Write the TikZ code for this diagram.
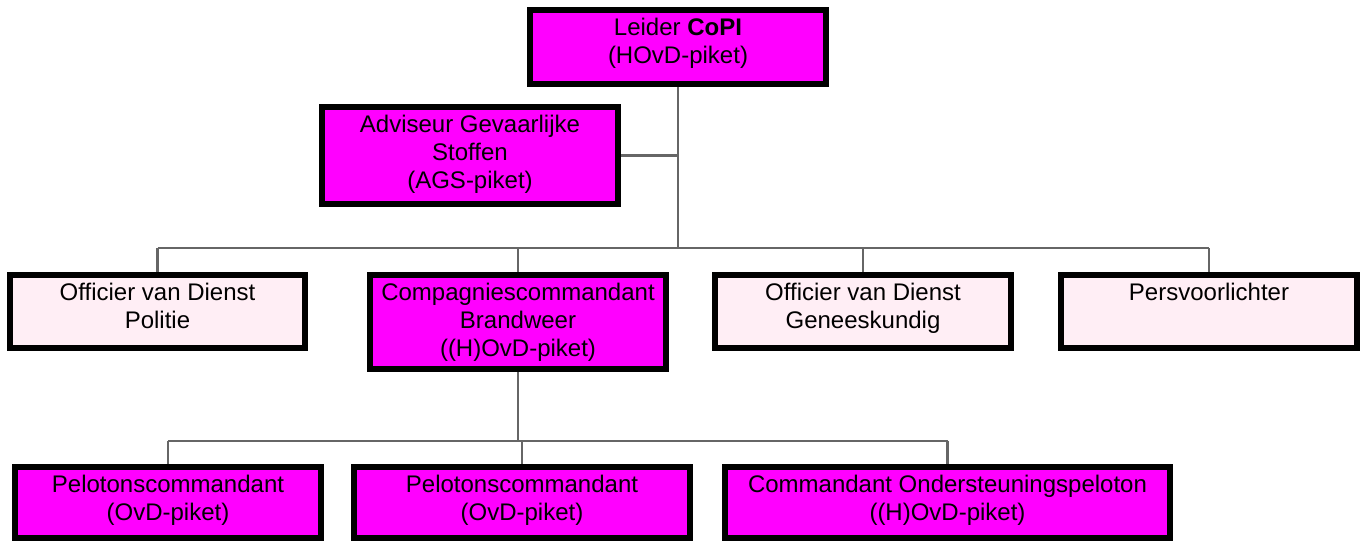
\documentclass[tikz,border=0pt]{standalone}
\usepackage{fontspec}
\setmainfont{Liberation Sans}
\usetikzlibrary{backgrounds}
\definecolor{roleMagenta}{HTML}{FF00FF}
\definecolor{rolePink}{HTML}{FFEEF5}
\definecolor{linkGray}{HTML}{666666}
% box content: width, height, text (top aligned, centred lines)
\newcommand\orgtext[3]{\parbox[c][#2][t]{#1}{\centering\vspace*{8.5pt}#3\par}}
\begin{document}
\begin{tikzpicture}[x=1pt,y=-1pt,
  font=\fontsize{24}{28}\selectfont,
  orgbox/.style={draw=black,line width=6pt,inner sep=0pt,rectangle},
  hot/.style={orgbox,fill=roleMagenta},
  soft/.style={orgbox,fill=rolePink},
  link/.style={draw=linkGray,line width=2.5pt}]
\useasboundingbox (0,0) rectangle (1366,541);

% top level
\node[hot] (lead) at (678,47) {\orgtext{296pt}{74pt}{Leider \textbf{CoPI}\\(HOvD-piket)}};
\node[hot] (ags) at (470,155.5) {\orgtext{296pt}{97pt}{Adviseur Gevaarlijke\\Stoffen\\(AGS-piket)}};

% second row
\node[soft] (pol) at (157.5,311.5) {\orgtext{295pt}{73pt}{Officier van Dienst\\Politie}};
\node[hot] (brw) at (518,322) {\orgtext{296pt}{94pt}{Compagniescommandant\\Brandweer\\((H)OvD-piket)}};
\node[soft] (ghor) at (863,311.5) {\orgtext{296pt}{73pt}{Officier van Dienst\\Geneeskundig}};
\node[soft] (pers) at (1209,311.5) {\orgtext{296pt}{73pt}{Persvoorlichter}};

% third row
\node[hot] (pel1) at (168,502.5) {\orgtext{306pt}{71pt}{Pelotonscommandant\\(OvD-piket)}};
\node[hot] (pel2) at (522,502.5) {\orgtext{336pt}{71pt}{Pelotonscommandant\\(OvD-piket)}};
\node[hot] (osp) at (947.5,502.5) {\orgtext{445pt}{71pt}{Commandant Ondersteuningspeloton\\((H)OvD-piket)}};

% bus junctions
\coordinate (busA) at (678,248);
\coordinate (busB) at (518,441);

\begin{scope}[on background layer]
  \draw[link] (lead.south) -- (busA);
  \draw[link] (ags.east) -- (ags.east -| lead.south);
  \draw[link] (pol.north |- busA) -- (pers.north |- busA);
  \foreach \n in {pol,brw,ghor,pers}
    \draw[link] (\n.north) -- (\n.north |- busA);
  \draw[link] (brw.south) -- (busB);
  \draw[link] (pel1.north |- busB) -- (osp.north |- busB);
  \foreach \n in {pel1,pel2,osp}
    \draw[link] (\n.north) -- (\n.north |- busB);
\end{scope}
\end{tikzpicture}
\end{document}
